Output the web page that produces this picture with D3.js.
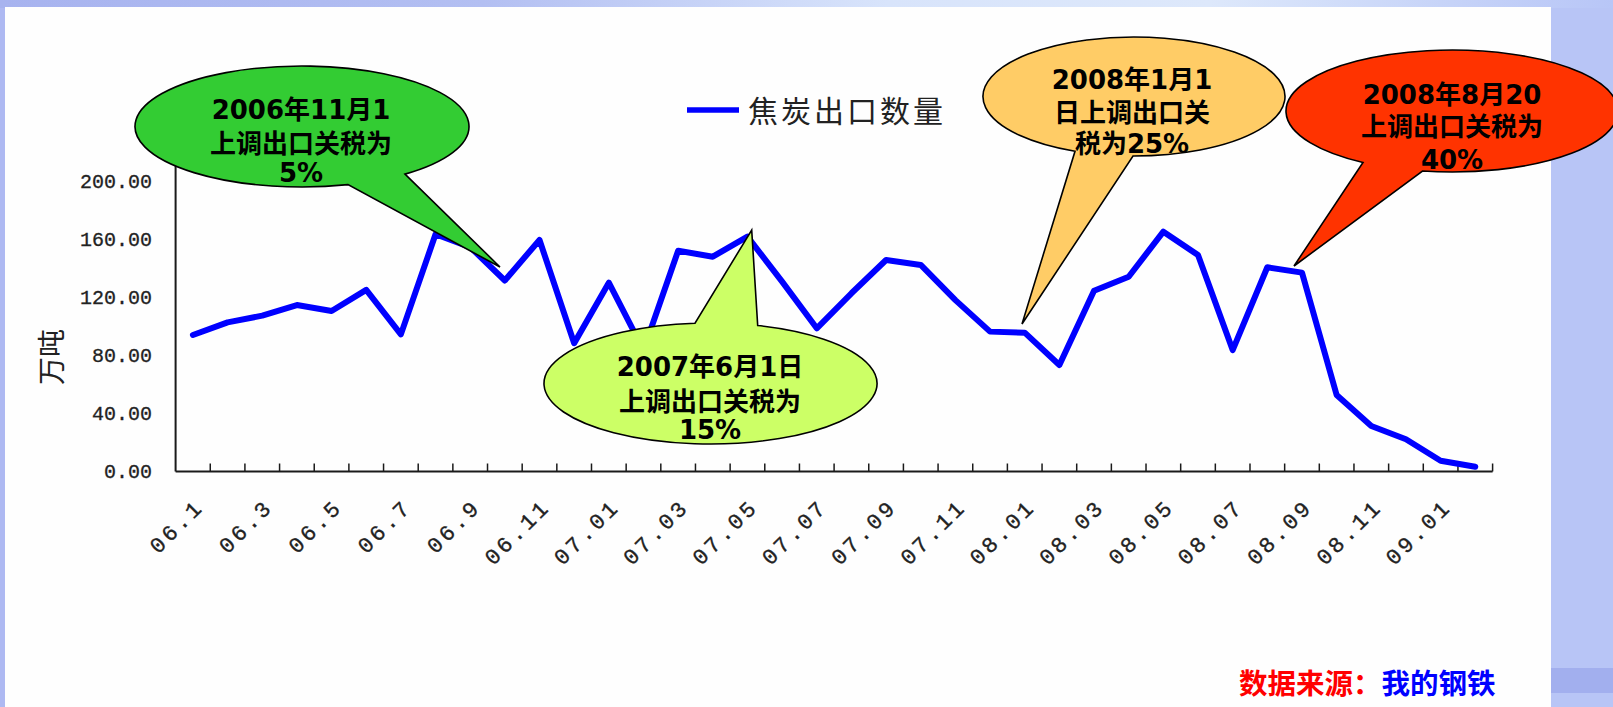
<!DOCTYPE html>
<html><head><meta charset="utf-8">
<script src="https://cdn.jsdelivr.net/npm/d3@7"></script>
<style>html,body{margin:0;padding:0;background:#fff;overflow:hidden}</style>
</head><body>
<svg id="c" width="1613" height="707"></svg>
<script>
// ---------- data ----------
const months = ["06.1","06.2","06.3","06.4","06.5","06.6","06.7","06.8","06.9","06.10","06.11","06.12",
  "07.01","07.02","07.03","07.04","07.05","07.06","07.07","07.08","07.09","07.10","07.11","07.12",
  "08.01","08.02","08.03","08.04","08.05","08.06","08.07","08.08","08.09","08.10","08.11","08.12",
  "09.01","09.02"];
const exportVolume = [94.0,102.7,107.3,114.6,110.5,125.0,94.4,163.3,154.5,131.5,159.4,88.3,
  130.0,83.5,152.0,147.9,161.7,130.7,98.6,122.7,145.6,142.2,118.0,96.3,
  95.6,73.3,124.5,134.1,165.1,149.0,83.6,140.6,136.9,52.7,31.3,22.2,
  7.4,3.3];
const yTicks = [0,40,80,120,160,200];
const seriesName = "焦炭出口数量";
const yTitle = "万吨";
const sourceLabel = "数据来源：";
const sourceName = "我的钢铁";
const noteTexts = [
  ["2006年11月1","上调出口关税为","5%"],
  ["2007年6月1日","上调出口关税为","15%"],
  ["2008年1月1","日上调出口关","税为25%"],
  ["2008年8月20","上调出口关税为","40%"]
];
const noteColors = ["#33cc33","#ccff66","#ffcc66","#ff3300"];

// ---------- layout ----------
const W = 1613, H = 707;
const plot = {left:175.6, right:1492.6, bottom:471.5, pxPerUnit:1.4525};
const noteLayout = [
  {cx:302, cy:126.5, rx:167, ry:60.5, side:"bottom", b1:348, b2:405, tip:[500,267], tx:301, base:[118.5,153,182]},
  {cx:710.5, cy:383.5, rx:166.5, ry:60.5, side:"top", b1:695, b2:757.7, tip:[751.7,230], tx:710, base:[376,410.5,438.5]},
  {cx:1134, cy:96.5, rx:151, ry:59.5, side:"bottom", b1:1075, b2:1133, tip:[1022,324], tx:1132, base:[88.7,122.4,153]},
  {cx:1452, cy:111, rx:166, ry:61, side:"bottom", b1:1363, b2:1422.5, tip:[1294,266], tx:1452, base:[104,135.5,169]}
];

const svg = d3.select("#c");
const defs = svg.append("defs");
const tg = defs.append("linearGradient").attr("id","topGrad").attr("x1","0").attr("x2","1").attr("y1","0").attr("y2","0");
[[0,"#a7b3ef"],[0.3,"#b3bff2"],[0.55,"#d8e4fb"],[0.75,"#dde8fb"],[0.9,"#c6d3f8"],[1,"#b8c6f7"]]
  .forEach(([o,c])=>tg.append("stop").attr("offset",o).attr("stop-color",c));

// background
svg.append("rect").attr("width",W).attr("height",H).attr("fill","#b8c5f6");
svg.append("rect").attr("width",W).attr("height",8).attr("fill","url(#topGrad)");
svg.append("rect").attr("x",0).attr("y",8).attr("width",5).attr("height",H).attr("fill","#aeb9f2");
svg.append("rect").attr("x",1551).attr("y",668).attr("width",62).attr("height",25).attr("fill","#a2afee");
svg.append("rect").attr("x",5).attr("y",7).attr("width",1546).attr("height",H).attr("fill","#fefefe");

// scales
const x = d3.scaleBand().domain(months).range([plot.left, plot.right]).padding(0);
const bw = x.bandwidth();
const y = d3.scaleLinear().domain([0,220]).range([plot.bottom, plot.bottom - 220*plot.pxPerUnit]);

// axes lines
const axisColor = "#1a1a1a";
svg.append("line").attr("x1",plot.left).attr("x2",plot.left).attr("y1",y(220)).attr("y2",y(0))
  .attr("stroke",axisColor).attr("stroke-width",2);
svg.append("line").attr("x1",plot.left).attr("x2",plot.right).attr("y1",y(0)).attr("y2",y(0))
  .attr("stroke",axisColor).attr("stroke-width",2);
svg.append("g").selectAll("line").data(months).join("line")
  .attr("x1",d=>x(d)+bw).attr("x2",d=>x(d)+bw)
  .attr("y1",y(0)-8).attr("y2",y(0))
  .attr("stroke",axisColor).attr("stroke-width",1.5);

// y axis labels
const yAxis = svg.append("g").attr("transform",`translate(${plot.left},0)`)
  .call(d3.axisLeft(y).tickValues(yTicks).tickSize(0).tickPadding(23.6).tickFormat(d3.format(".2f")));
yAxis.select(".domain").remove();
yAxis.selectAll("text").attr("font-family","'Liberation Mono', monospace").attr("font-size",20)
  .attr("fill","#222").attr("stroke","#222").attr("stroke-width",0.3);

// x labels
svg.append("g").selectAll("text").data(months.filter((d,i)=>i%2===0)).join("text")
  .attr("transform",d=>`translate(${x(d)+bw/2+12},508) rotate(-45)`)
  .attr("text-anchor","end")
  .attr("font-family","'Liberation Mono', monospace").attr("font-size",22)
  .attr("letter-spacing","3.3px").attr("fill","#222").attr("stroke","#222").attr("stroke-width",0.35)
  .text(d=>d);

// y title
svg.append("text").attr("transform","translate(50,357) rotate(-90)")
  .attr("text-anchor","middle").attr("dominant-baseline","central")
  .attr("font-family","'Noto Sans CJK SC', sans-serif").attr("font-size",28).attr("fill","#222")
  .text(yTitle);

// series line
const line = d3.line().x((d,i)=>x(months[i])+bw/2).y(d=>y(d));
svg.append("path").datum(exportVolume).attr("d",line)
  .attr("fill","none").attr("stroke","#0000ff").attr("stroke-width",6)
  .attr("stroke-linejoin","round").attr("stroke-linecap","round");

// legend
svg.append("line").attr("x1",687).attr("x2",739).attr("y1",110).attr("y2",110)
  .attr("stroke","#0000ff").attr("stroke-width",5.5);
svg.append("text").attr("x",748).attr("y",122).attr("font-family","'Noto Sans CJK SC', sans-serif")
  .attr("font-size",30).attr("letter-spacing","3px").attr("fill","#222").text(seriesName);

// callouts
noteLayout.forEach((n,k)=>{
  const sgn = n.side==="bottom" ? 1 : -1;
  const ey = bx => n.cy + sgn*n.ry*Math.sqrt(Math.max(0,1-Math.pow((bx-n.cx)/n.rx,2)));
  const p1 = [n.b1, ey(n.b1)], p2 = [n.b2, ey(n.b2)];
  const sweep = n.side==="bottom" ? 0 : 1;
  const d = `M${p2[0]},${p2[1]} A${n.rx},${n.ry} 0 1 ${sweep} ${p1[0]},${p1[1]} L${n.tip[0]},${n.tip[1]} Z`;
  svg.append("path").attr("d",d).attr("fill",noteColors[k]).attr("stroke","#000").attr("stroke-width",1.6)
    .attr("stroke-linejoin","miter");
  const t = svg.append("g").attr("font-family","'DejaVu Sans','Noto Sans CJK SC',sans-serif")
    .attr("font-weight","bold").attr("font-size",26).attr("fill","#000").attr("text-anchor","middle");
  noteTexts[k].forEach((s,j)=>{
    t.append("text").attr("x",n.tx).attr("y",n.base[j]).text(s);
  });
});

// source
const src = svg.append("text").attr("x",1239).attr("y",694)
  .attr("font-family","'Noto Sans CJK SC', sans-serif").attr("font-weight","bold").attr("font-size",28.5);
src.append("tspan").attr("fill","#ff0000").text(sourceLabel);
src.append("tspan").attr("fill","#0000ff").text(sourceName);
</script>
</body></html>
